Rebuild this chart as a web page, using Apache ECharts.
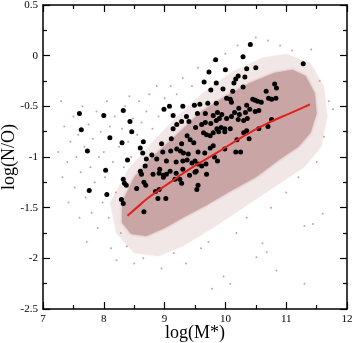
<!DOCTYPE html>
<html>
<head>
<meta charset="utf-8">
<script src="https://cdn.jsdelivr.net/npm/echarts@6/dist/echarts.min.js"></script>
<style>
  html, body { margin: 0; padding: 0; background: #fff; }
  #chart { width: 354px; height: 343px; }
</style>
</head>
<body>
<div id="chart"></div>
<script>
// outline of the broad, lighter part of the galaxy cloud
const haloOutline = [
  [8.1, -1.45], [8.4, -1.12], [8.8, -0.85], [9.2, -0.6], [9.6, -0.38], [10.1, -0.16],
  [10.6, -0.02], [11.0, 0.02], [11.4, -0.07], [11.62, -0.3], [11.68, -0.6], [11.58, -0.9],
  [11.3, -1.1], [10.8, -1.3], [10.3, -1.5], [9.8, -1.7], [9.3, -1.88], [8.9, -1.98],
  [8.5, -1.95], [8.2, -1.75]
]

// outline of the dense core of the cloud
const coreOutline = [
  [8.3, -1.45], [8.5, -1.2], [8.8, -1.0], [9.2, -0.78], [9.6, -0.55], [10.0, -0.4],
  [10.4, -0.27], [10.8, -0.17], [11.1, -0.14], [11.32, -0.2], [11.47, -0.37], [11.5, -0.57],
  [11.4, -0.76], [11.2, -0.9], [10.9, -1.02], [10.5, -1.2], [10.1, -1.33], [9.7, -1.47],
  [9.3, -1.6], [9.0, -1.7], [8.7, -1.78], [8.45, -1.76], [8.3, -1.65]
]

// scattered single galaxies outside the core
const sparsePoints = [
  [7.25, -0.95], [7.3, -0.45], [7.32, -1.2], [7.35, -0.7], [7.4, -1.05], [7.42, -1.45],
  [7.45, -0.85], [7.5, -0.6], [7.52, -1.3], [7.55, -1.0], [7.58, -0.78], [7.6, -1.6],
  [7.62, -1.15], [7.65, -0.5], [7.68, -0.9], [7.7, -1.4], [7.72, -1.84], [7.75, -0.68],
  [7.78, -1.1], [7.8, -1.55], [7.82, -0.82], [7.85, -1.25], [7.88, -0.55], [7.9, -1.7],
  [7.92, -1.0], [7.95, -0.75], [7.98, -1.45], [8.0, -0.95], [8.02, -1.2], [8.05, -0.45],
  [8.08, -1.6], [8.1, -0.7], [8.12, -1.9], [8.15, -1.05], [8.18, -0.6], [8.2, -1.35],
  [8.21, -2.02], [8.25, -0.9], [8.28, -1.75], [8.3, -0.72], [8.33, -1.1], [8.35, -0.5],
  [8.38, -1.88], [8.4, -0.85], [8.42, -0.4], [8.45, -1.0], [8.48, -0.62], [8.5, -2.05],
  [8.55, -0.78], [8.58, -0.45], [8.62, -0.66], [8.65, -2.0], [8.7, -0.55], [8.75, -0.38],
  [8.8, -0.72], [8.87, -0.3], [8.9, -0.6], [8.95, -2.1], [9.0, -0.42], [9.1, -0.3],
  [9.15, -1.95], [9.2, -0.38], [9.3, -0.22], [9.35, -2.05], [9.45, -0.3], [9.55, -0.12],
  [9.6, -1.9], [9.72, -1.84], [9.78, -2.3], [9.8, -0.05], [9.97, -2.18], [10.0, 0.02],
  [10.08, -2.25], [10.18, -1.75], [10.2, 0.1], [10.35, -1.6], [10.5, 0.18], [10.51, -1.99],
  [10.61, -1.85], [10.68, -1.94], [10.7, 0.15], [10.75, -1.5], [10.84, -2.12], [10.9, 0.1],
  [11.0, -1.35], [11.1, 0.05], [11.2, -1.2], [11.3, -1.68], [11.3, -2.25], [11.41, 0.06],
  [11.44, -1.66], [11.5, -1.05], [11.55, -0.25], [11.6, -1.56], [11.62, -0.8], [11.7, -0.45],
  [11.77, -0.53]
]

// fitted relation (red curve)
const fitLine = [
  [8.39, -1.58], [8.6, -1.47], [8.76, -1.39], [9.14, -1.23], [9.41, -1.12], [9.8, -0.98],
  [10.4, -0.76], [10.79, -0.64], [11.06, -0.57], [11.39, -0.48]
]

// black sample points
const samplePoints = [
  [7.60, -0.57], [7.63, -0.73], [7.73, -0.94], [8.00, -0.59], [8.10, -0.81], [8.30, -0.86],
  [8.32, -0.54], [8.43, -0.65], [8.46, -0.75], [8.65, -0.85], [8.60, -0.91], [8.64, -0.96],
  [8.39, -1.03], [8.70, -1.02], [8.79, -0.98], [8.03, -1.13], [8.32, -1.22], [8.34, -1.26],
  [8.37, -1.28], [7.76, -1.33], [8.05, -1.37], [8.54, -1.31], [8.69, -1.28], [8.29, -1.42],
  [8.32, -1.46], [8.66, -1.54], [8.60, -1.14], [8.62, -1.17], [8.68, -1.09], [8.81, -1.17],
  [8.91, -1.16], [8.98, -1.18], [9.03, -1.17], [8.85, -1.34], [8.91, -1.32], [8.89, -1.41],
  [9.02, -1.41], [9.19, -1.16], [9.17, -1.22], [9.25, -1.22], [9.28, -1.26], [9.41, -1.18],
  [9.50, -1.15], [9.69, -1.17], [9.55, -1.28], [9.53, -1.32], [8.66, -1.25], [8.99, -0.53],
  [9.08, -0.50], [9.14, -0.72], [8.95, -0.87], [9.10, -0.94], [8.97, -0.95], [10.41, 0.11],
  [11.28, -0.08], [10.29, -0.01], [9.84, -0.04], [9.73, -0.16], [10.00, -0.14], [10.35, -0.13],
  [10.50, -0.12], [9.65, -0.26], [9.85, -0.27], [10.17, -0.23], [10.21, -0.20], [10.14, -0.27],
  [10.32, -0.21], [9.76, -0.34], [9.96, -0.33], [10.12, -0.35], [10.29, -0.31], [10.67, -0.35],
  [10.81, -0.28], [10.84, -0.32], [10.71, -0.42], [10.76, -0.43], [10.83, -0.42], [10.45, -0.43],
  [10.49, -0.44], [10.53, -0.45], [10.59, -0.46], [10.02, -0.42], [10.08, -0.43], [10.10, -0.46],
  [9.30, -0.50], [9.49, -0.49], [9.58, -0.48], [9.71, -0.47], [9.85, -0.47], [10.22, -0.52],
  [10.35, -0.49], [10.15, -0.56], [10.23, -0.58], [10.33, -0.56], [10.40, -0.53], [10.49, -0.55],
  [10.55, -0.54], [9.36, -0.60], [9.54, -0.57], [9.67, -0.57], [9.80, -0.59], [9.87, -0.56],
  [9.94, -0.58], [9.20, -0.68], [9.28, -0.65], [9.40, -0.65], [9.51, -0.71], [9.61, -0.68],
  [9.67, -0.66], [9.76, -0.67], [9.85, -0.64], [9.90, -0.62], [10.02, -0.62], [10.10, -0.60],
  [10.21, -0.63], [10.30, -0.64], [10.36, -0.62], [10.76, -0.63], [10.70, -0.70], [10.55, -0.72],
  [10.39, -0.82], [10.30, -0.76], [10.35, -0.74], [10.19, -0.83], [9.99, -0.72], [9.99, -0.75],
  [10.08, -0.72], [9.86, -0.72], [9.89, -0.75], [9.93, -0.71], [9.64, -0.76], [9.69, -0.78],
  [9.75, -0.79], [9.80, -0.76], [9.37, -0.79], [9.42, -0.83], [9.48, -0.86], [9.20, -0.92],
  [9.26, -0.94], [9.31, -0.96], [9.75, -0.91], [9.80, -0.89], [9.99, -0.92], [10.17, -0.95],
  [10.25, -0.95], [9.87, -1.04], [9.82, -1.00], [9.37, -1.03], [9.45, -1.06], [9.50, -1.04],
  [9.55, -1.07], [9.61, -1.09], [9.14, -0.59], [9.11, -0.82], [9.28, -0.87], [9.39, -0.97],
  [9.55, -0.95], [9.66, -0.96], [8.87, -1.02], [9.03, -1.04], [9.19, -1.05], [9.30, -1.04],
  [9.68, -1.07], [8.92, -1.12], [9.09, -1.14], [9.30, -1.12], [9.52, -1.14], [8.98, -1.20]
]

const xTicks = { min: 7, max: 12, interval: 1 }
const yTicks = { min: -2.5, max: 0.5, interval: 0.5 }

const serif = 'Liberation Serif'
const black = '#000'

// 画多边形（云团）
const polygonSeries = (outline, fill, blur) => ({
  type: 'custom',
  silent: true,
  clip: true,
  data: [outline[0]],
  renderItem: (params, api) => ({
    type: 'polygon',
    shape: { points: outline.map(p => api.coord(p)) },
    style: { fill: fill, shadowBlur: blur, shadowColor: fill }
  })
})

const axisBase = (range, pos, showLabel) => ({
  type: 'value',
  min: range.min,
  max: range.max,
  interval: range.interval,
  position: pos,
  axisLine: { show: true, onZero: false, lineStyle: { color: black, width: 1.5 } },
  axisTick: { show: true, inside: true, length: 7, lineStyle: { color: black, width: 1.2 } },
  minorTick: { show: true, splitNumber: 2, length: 4, lineStyle: { color: black, width: 1.2 } },
  splitLine: { show: false },
  axisLabel: {
    show: showLabel,
    color: black,
    fontFamily: serif,
    fontSize: 11,
    margin: 5
  }
})

const chart = echarts.init(document.getElementById('chart'))

const option = {
  animation: false,
  backgroundColor: '#fff',
  grid: { left: 43, right: 7, top: 5, bottom: 34, containLabel: false, outerBoundsMode: 'none' },
  xAxis: [
    Object.assign(axisBase(xTicks, 'bottom', true), {
      name: 'log(M*)',
      nameLocation: 'middle',
      nameGap: 15,
      nameMoveOverlap: false,
      nameTextStyle: { color: black, fontFamily: serif, fontSize: 18 }
    }),
    axisBase(xTicks, 'top', false)
  ],
  yAxis: [
    Object.assign(axisBase(yTicks, 'left', true), {
      name: 'log(N/O)',
      nameLocation: 'middle',
      nameGap: 25,
      nameMoveOverlap: false,
      nameTextStyle: { color: black, fontFamily: serif, fontSize: 18 }
    }),
    axisBase(yTicks, 'right', false)
  ],
  series: [
    polygonSeries(haloOutline, 'rgba(205,160,160,0.22)', 4),
    polygonSeries(coreOutline, '#c9a5a5', 3),
    {
      type: 'scatter',
      data: sparsePoints,
      symbolSize: 2,
      itemStyle: { color: '#c9a0a0', opacity: 1 },
      silent: true
    },
    {
      type: 'line',
      data: fitLine,
      smooth: true,
      showSymbol: false,
      lineStyle: { color: '#e0201c', width: 2 },
      silent: true
    },
    {
      type: 'scatter',
      data: samplePoints,
      symbolSize: 5,
      itemStyle: { color: black, opacity: 1 },
      silent: true
    }
  ]
}

chart.setOption(option)
</script>
</body>
</html>
